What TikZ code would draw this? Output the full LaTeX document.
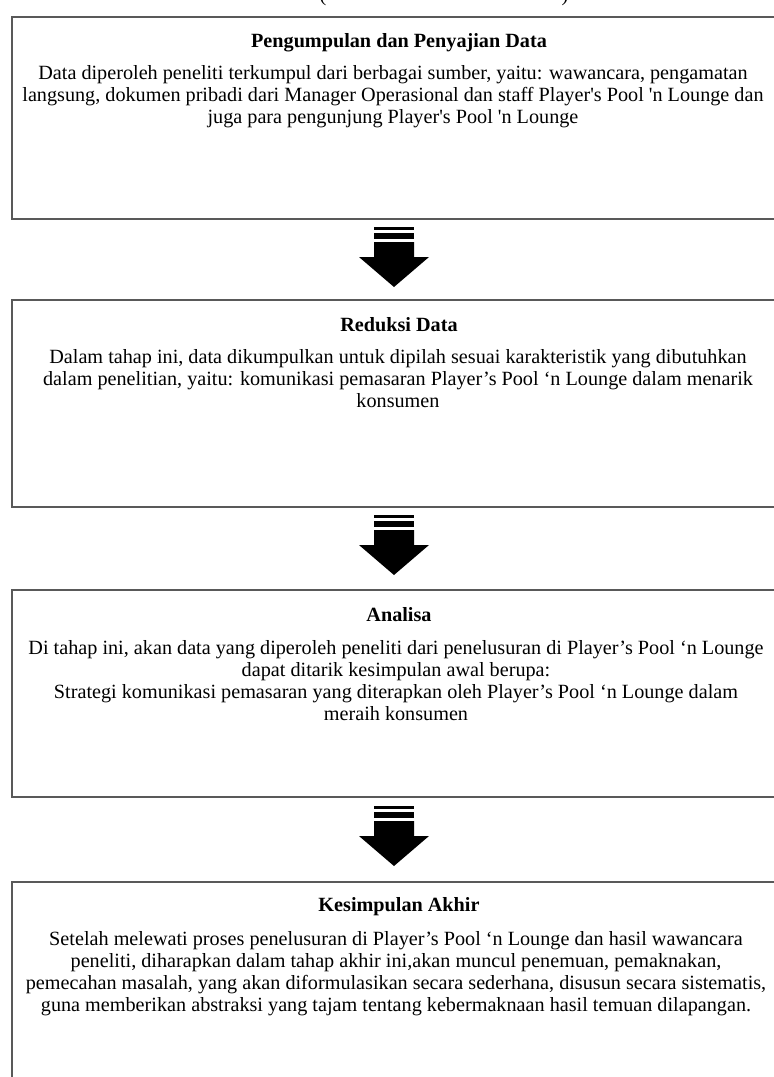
\documentclass[tikz,border=0pt]{standalone}
\usepackage{fontspec}
\setmainfont{Liberation Serif}
\usetikzlibrary{positioning}

\begin{document}
\begin{tikzpicture}[x=0.5pt, y=-0.5pt, every node/.style={font=\fontsize{10.1}{11}\selectfont, inner sep=0pt},
	box/.style={draw=black!65, line width=0.8pt, anchor=north west, minimum width=400pt},
	title/.style={font=\fontsize{10.1}{11}\selectfont\bfseries},
	body/.style={align=center},
	pics/flow/.style={code={
		\fill (-20,0) rectangle (20,3);
		\fill (-20,6) rectangle (20,12);
		\fill (-20,15) -- (20,15) -- (20,30) -- (35,30) -- (0,60) -- (-35,30) -- (-20,30) -- cycle;
	}}]
	\useasboundingbox (0,0) rectangle (774,1077);
	\node[anchor=south] (lp) at (323,6) {(};
	\node[anchor=south] (rp) at (565,6) {)};
	\node[box, minimum height=101pt] (b1) at (11,16) {};
	\node[box, minimum height=103.5pt] (b2) at (11,299) {};
	\node[box, minimum height=103.5pt] (b3) at (11,589) {};
	\node[box, minimum height=120pt] (b4) at (11,881) {};
	\foreach \y in {227,515,806} {\pic at (394,\y) {flow};}
	\node[title] (t1) at (399,43) {Pengumpulan dan Penyajian Data};
	\node[body] (d1) at (393,97) {Data diperoleh peneliti terkumpul dari berbagai sumber, yaitu: wawancara, pengamatan\\
		langsung, dokumen pribadi dari Manager Operasional dan staff Player\textquotesingle s Pool \textquotesingle n Lounge dan\\
		juga para pengunjung Player\textquotesingle s Pool \textquotesingle n Lounge};
	\node[title] (t2) at (399,325) {Reduksi Data};
	\node[body] (d2) at (398,379) {Dalam tahap ini, data dikumpulkan untuk dipilah sesuai karakteristik yang dibutuhkan\\
		dalam penelitian, yaitu: komunikasi pemasaran Player’s Pool ‘n Lounge dalam menarik\\
		konsumen};
	\node[title] (t3) at (399,615) {Analisa};
	\node[body] (d3) at (396,681) {Di tahap ini, akan data yang diperoleh peneliti dari penelusuran di Player’s Pool ‘n Lounge\\
		dapat ditarik kesimpulan awal berupa:\\
		Strategi komunikasi pemasaran yang diterapkan oleh Player’s Pool ‘n Lounge dalam\\
		meraih konsumen};
	\node[title] (t4) at (399,907) {Kesimpulan Akhir};
	\node[body] (d4) at (396,974) {Setelah melewati proses penelusuran di Player’s Pool ‘n Lounge dan hasil wawancara\\
		peneliti, diharapkan dalam tahap akhir ini,akan muncul penemuan, pemaknakan,\\
		pemecahan masalah, yang akan diformulasikan secara sederhana, disusun secara sistematis,\\
		guna memberikan abstraksi yang tajam tentang kebermaknaan hasil temuan dilapangan.};
\end{tikzpicture}
\end{document}
